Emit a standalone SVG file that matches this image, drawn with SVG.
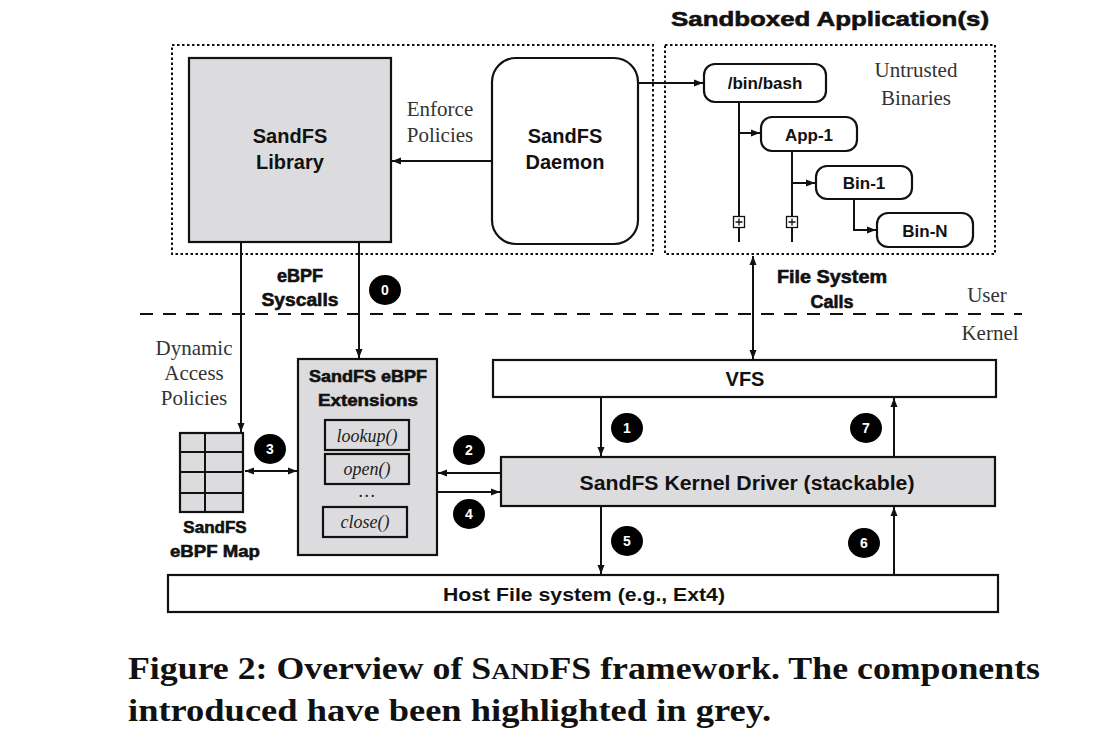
<svg xmlns="http://www.w3.org/2000/svg" width="1119" height="738" viewBox="0 0 1119 738">
<defs>
<style>
.dot{fill:none;stroke:#111;stroke-width:2;stroke-dasharray:2.5 2.5}
.box{stroke:#111;stroke-width:2.2}
.grey{fill:#dcdcdf}
.white{fill:#fff}
.ln{stroke:#111;stroke-width:2;fill:none}
.ah{marker-end:url(#arr)}
.dbl{marker-end:url(#arr);marker-start:url(#arr)}
.b{font-family:"Liberation Sans",Arial,sans-serif;font-weight:bold;fill:#111;text-anchor:middle}
.hv{stroke:#111;stroke-width:0.6}
.s{font-family:"Liberation Serif","Times New Roman",serif;fill:#333;font-size:21px;text-anchor:middle}
.it{font-family:"Liberation Serif","Times New Roman",serif;font-style:italic;fill:#222;font-size:18px;text-anchor:middle}
.num{fill:#000}
.nt{font-family:"Liberation Sans",Arial,sans-serif;font-weight:bold;fill:#fff;font-size:14px;text-anchor:middle}
.cap{font-family:"Liberation Serif","Times New Roman",serif;font-weight:bold;fill:#111;font-size:32px}
</style>
<marker id="arr" markerUnits="userSpaceOnUse" markerWidth="9" markerHeight="8" refX="9" refY="4" orient="auto-start-reverse"><path d="M0,0.5 L9,4 L0,7.5 z" fill="#111"/></marker>
</defs>
<rect width="1119" height="738" fill="#fff"/>

<g id="user-space-box"><rect class="dot" x="172" y="45" width="481" height="209"/></g>
<g id="sandboxed-apps-box">
<rect class="dot" x="665" y="45" width="330" height="209"/>
<text class="b hv" x="830" y="26" font-size="21" textLength="318" lengthAdjust="spacingAndGlyphs">Sandboxed Application(s)</text>
<text class="s" x="916" y="77">Untrusted</text>
<text class="s" x="916" y="105">Binaries</text>
</g>

<g id="sandfs-library">
<rect class="box grey" x="189" y="58" width="202" height="184"/>
<text class="b" x="290" y="143" font-size="20">SandFS</text>
<text class="b" x="290" y="169" font-size="20">Library</text>
</g>
<g id="sandfs-daemon">
<rect class="box white" x="492" y="58" width="146" height="186" rx="24"/>
<text class="b" x="565" y="143" font-size="20">SandFS</text>
<text class="b" x="565" y="169" font-size="20">Daemon</text>
</g>
<g id="bin-bash"><rect class="box white" x="704" y="64" width="122" height="38" rx="11"/><text class="b" x="765" y="89" font-size="17">/bin/bash</text></g>
<g id="app-1"><rect class="box white" x="761" y="117" width="96" height="34" rx="11"/><text class="b" x="809" y="141" font-size="17">App-1</text></g>
<g id="bin-1"><rect class="box white" x="816" y="166" width="96" height="33" rx="11"/><text class="b" x="864" y="189" font-size="17">Bin-1</text></g>
<g id="bin-n"><rect class="box white" x="877" y="213" width="96" height="34" rx="11"/><text class="b" x="925" y="237" font-size="17">Bin-N</text></g>

<g id="ebpf-map">
<rect class="box grey" x="180" y="433" width="63" height="79"/>
<path class="ln" d="M205,433 V512 M180,452 H243 M180,472 H243 M180,493 H243"/>
<text class="b hv" x="215" y="533" font-size="17">SandFS</text>
<text class="b hv" x="215" y="557" font-size="17" textLength="90" lengthAdjust="spacingAndGlyphs">eBPF Map</text>
</g>
<g id="ebpf-extensions">
<rect class="box grey" x="298" y="359" width="139" height="196"/>
<text class="b hv" x="368" y="382" font-size="17" textLength="118" lengthAdjust="spacingAndGlyphs">SandFS eBPF</text>
<text class="b hv" x="368" y="406" font-size="17" textLength="100" lengthAdjust="spacingAndGlyphs">Extensions</text>
<rect class="box grey" x="325" y="420" width="84" height="30"/>
<text class="it" x="367" y="442">lookup()</text>
<rect class="box grey" x="325" y="454" width="84" height="30"/>
<text class="it" x="367" y="475">open()</text>
<text class="it" x="367" y="497">…</text>
<rect class="box grey" x="323" y="507" width="84" height="30"/>
<text class="it" x="365" y="528">close()</text>
</g>
<g id="vfs"><rect class="box white" x="493" y="360" width="503" height="37"/><text class="b" x="745" y="386" font-size="20">VFS</text></g>
<g id="kernel-driver"><rect class="box grey" x="501" y="457" width="494" height="49"/><text class="b" x="747" y="490" font-size="20" textLength="335" lengthAdjust="spacingAndGlyphs">SandFS Kernel Driver (stackable)</text></g>
<g id="host-fs"><rect class="box white" x="168" y="575" width="830" height="37"/><text class="b" x="584" y="601" font-size="19" textLength="282" lengthAdjust="spacingAndGlyphs">Host File system (e.g., Ext4)</text></g>

<g id="connectors">
<line class="ln ah" x1="492" y1="161" x2="392" y2="161"/>
<line class="ln ah" x1="638" y1="83" x2="703" y2="83"/>
<line class="ln" x1="739" y1="102" x2="739" y2="242"/>
<line class="ln ah" x1="739" y1="133" x2="760" y2="133"/>
<line class="ln" x1="792" y1="151" x2="792" y2="242"/>
<line class="ln ah" x1="792" y1="183" x2="815" y2="183"/>
<polyline class="ln ah" points="854,199 854,230 876,230"/>
<line class="ln ah" x1="241" y1="242" x2="241" y2="432"/>
<line class="ln ah" x1="359" y1="242" x2="359" y2="358"/>
<line class="ln dbl" x1="245" y1="471" x2="297" y2="471"/>
<line class="ln ah" x1="501" y1="473" x2="438" y2="473"/>
<line class="ln ah" x1="437" y1="492" x2="500" y2="492"/>
<line class="ln dbl" x1="753" y1="256" x2="753" y2="359"/>
<line class="ln ah" x1="601" y1="397" x2="601" y2="456"/>
<line class="ln ah" x1="894" y1="457" x2="894" y2="398"/>
<line class="ln ah" x1="601" y1="506" x2="601" y2="574"/>
<line class="ln ah" x1="894" y1="575" x2="894" y2="507"/>
</g>

<g id="plus-markers">
<rect x="733.5" y="216.5" width="11" height="11" fill="#fff" stroke="#111" stroke-width="1.3"/>
<path d="M735.5,222 H742.5 M739,218.5 V225.5" stroke="#111" stroke-width="1.3"/>
<rect x="786.5" y="216.5" width="11" height="11" fill="#fff" stroke="#111" stroke-width="1.3"/>
<path d="M788.5,222 H795.5 M792,218.5 V225.5" stroke="#111" stroke-width="1.3"/>
</g>

<g id="boundary">
<line x1="140" y1="314" x2="1022" y2="314" stroke="#111" stroke-width="2" stroke-dasharray="13 10"/>
<text class="s" x="987" y="302">User</text>
<text class="s" x="990" y="340">Kernel</text>
</g>

<g id="labels">
<text class="s" x="440" y="116">Enforce</text>
<text class="s" x="440" y="142">Policies</text>
<text class="b hv" x="300" y="282" font-size="18">eBPF</text>
<text class="b hv" x="300" y="306" font-size="18" textLength="77" lengthAdjust="spacingAndGlyphs">Syscalls</text>
<text class="b hv" x="832" y="283" font-size="18" textLength="110" lengthAdjust="spacingAndGlyphs">File System</text>
<text class="b hv" x="832" y="308" font-size="18">Calls</text>
<text class="s" x="194" y="355">Dynamic</text>
<text class="s" x="194" y="380">Access</text>
<text class="s" x="194" y="405">Policies</text>
</g>

<g id="step-badges">
<ellipse class="num" cx="385" cy="290" rx="16" ry="15"/><text class="nt" x="385" y="295">0</text>
<ellipse class="num" cx="627" cy="428" rx="16" ry="15"/><text class="nt" x="627" y="433">1</text>
<ellipse class="num" cx="469" cy="450" rx="16" ry="15"/><text class="nt" x="469" y="455">2</text>
<ellipse class="num" cx="270" cy="449" rx="16" ry="15"/><text class="nt" x="270" y="454">3</text>
<ellipse class="num" cx="469" cy="514" rx="16" ry="15"/><text class="nt" x="469" y="519">4</text>
<ellipse class="num" cx="627" cy="541" rx="16" ry="15"/><text class="nt" x="627" y="546">5</text>
<ellipse class="num" cx="864" cy="543" rx="16" ry="15"/><text class="nt" x="864" y="548">6</text>
<ellipse class="num" cx="866" cy="428" rx="16" ry="15"/><text class="nt" x="866" y="433">7</text>
</g>

<g id="caption">
<text class="cap" x="128" y="679" textLength="912" lengthAdjust="spacingAndGlyphs">Figure 2: Overview of S<tspan font-size="24">AND</tspan>FS framework. The components</text>
<text class="cap" x="128" y="721" textLength="643" lengthAdjust="spacingAndGlyphs">introduced have been highlighted in grey.</text>
</g>
</svg>
